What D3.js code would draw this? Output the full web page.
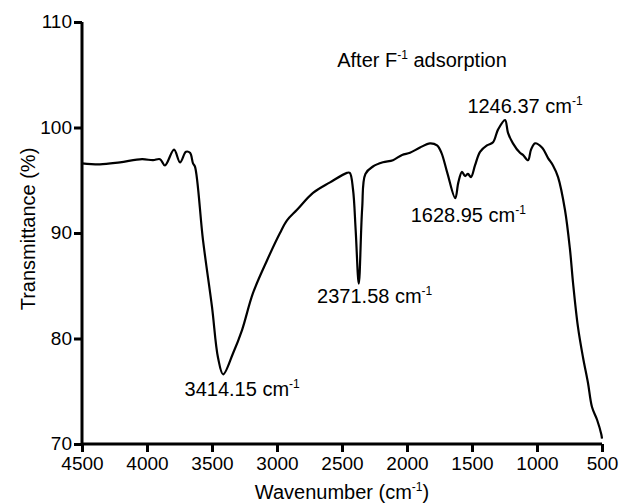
<!DOCTYPE html>
<html>
<head>
<meta charset="utf-8">
<script src="https://cdn.jsdelivr.net/npm/d3@7"></script>
<style>
  body { margin: 0; background: #fff; }
  text { font-family: "Liberation Sans", Arial, sans-serif; fill: #000; }
</style>
</head>
<body>
<div id="chart"></div>
<script>
// FTIR spectrum after F- adsorption
const wavenumber = [4500, 4362, 4208, 4038, 3954, 3900, 3862, 3792, 3746, 3700, 3669, 3646, 3631,
  3569, 3500, 3454, 3414, 3338, 3269, 3185, 3077, 2977, 2923, 2846, 2723, 2592, 2462, 2440,
  2415, 2395, 2371, 2345, 2320, 2262, 2185, 2108, 2038, 1977, 1900, 1823, 1769, 1735, 1690,
  1629, 1605, 1577, 1554, 1531, 1508, 1477, 1438, 1385, 1338, 1300, 1246, 1223, 1185, 1131,
  1108, 1069, 1046, 1015, 962, 915, 877, 838, 785, 746, 723, 685, 646, 608, 577, 538, 505, 500];
const transmittance = [96.6, 96.5, 96.7, 97.0, 96.9, 97.0, 96.4, 97.9, 96.7, 97.7, 97.6, 96.6, 96.3,
  89.3, 83.0, 78.2, 76.6, 78.6, 80.8, 84.3, 87.4, 90.0, 91.2, 92.2, 93.8, 94.8, 95.7, 95.7,
  94.1, 90.3, 85.2, 92.3, 95.6, 96.3, 96.7, 96.9, 97.4, 97.6, 98.1, 98.5, 98.3, 97.6, 95.7,
  93.3, 94.8, 95.8, 95.4, 95.6, 95.3, 96.4, 97.7, 98.3, 98.6, 99.8, 100.7, 99.5, 98.5, 97.6,
  97.4, 96.9, 97.9, 98.5, 98.1, 97.1, 96.4, 95.3, 92.2, 88.4, 85.3, 81.1, 78.2, 75.8, 73.5, 72.3, 70.9, 70.5];

const xTicks = [4500, 4000, 3500, 3000, 2500, 2000, 1500, 1000, 500];
const yTicks = [70, 80, 90, 100, 110];

// labelled peaks
const peakWn = [3414.15, 2371.58, 1628.95, 1246.37];
const peakText = ["3414.15", "2371.58", "1628.95", "1246.37"];

const width = 623, height = 503;
const margin = {top: 22, right: 21, bottom: 59, left: 82};

const svg = d3.select('#chart').append('svg')
    .attr('width', width)
    .attr('height', height);

const x = d3.scaleLinear().domain([4500, 500]).range([margin.left, width - margin.right]);
const y = d3.scaleLinear().domain([70, 110]).range([height - margin.bottom, margin.top]);

// axes
const xAxis = svg.append('g')
    .attr('transform', `translate(0,${height - margin.bottom})`)
    .call(d3.axisBottom(x).tickValues(xTicks).tickSize(8).tickPadding(5).tickFormat(d3.format('d')));
const yAxis = svg.append('g')
    .attr('transform', `translate(${margin.left},0)`)
    .call(d3.axisLeft(y).tickValues(yTicks).tickSize(8).tickPadding(2).tickFormat(d3.format('d')));

[xAxis, yAxis].forEach(g => {
  g.select('.domain').attr('stroke', '#000').attr('stroke-width', 3);
  g.selectAll('.tick line').attr('stroke', '#000').attr('stroke-width', 3);
  g.selectAll('.tick text').style('font-size', '19px').attr('fill', '#000');
});
xAxis.select('.domain').attr('d', `M${margin.left},0H${width - margin.right}`);
yAxis.select('.domain').attr('d', `M0,${margin.top}V${height - margin.bottom}`);
yAxis.selectAll('.tick text').attr('dy', '0.3em');

// spectrum line
const line = d3.line()
    .x((d, i) => x(wavenumber[i]))
    .y(d => y(d))
    .curve(d3.curveCatmullRom.alpha(0.5));

svg.append('path')
    .datum(transmittance)
    .attr('d', line)
    .attr('fill', 'none')
    .attr('stroke', '#000')
    .attr('stroke-width', 2.2)
    .attr('stroke-linejoin', 'round');

// helper for "xxx cm-1" text with superscript
function supText(sel, main, sup, tail) {
  sel.append('tspan').text(main);
  sel.append('tspan').attr('dy', -8).style('font-size', '12px').text(sup);
  if (tail) sel.append('tspan').attr('dy', 8).text(tail);
}

// peak labels (offsets in px from the peak)
const labelDx = [19, 16, 13, 20];
const labelY = [396, 303, 222, 113];
peakWn.forEach((wn, i) => {
  const t = svg.append('text')
      .attr('x', x(wn) + labelDx[i])
      .attr('y', labelY[i])
      .attr('text-anchor', 'middle')
      .style('font-size', '20px');
  supText(t, peakText[i] + ' cm', '-1');
});

// title inside plot
const title = svg.append('text')
    .attr('x', 422)
    .attr('y', 67)
    .attr('text-anchor', 'middle')
    .style('font-size', '20px');
supText(title, 'After F', '-1', ' adsorption');

// axis titles
const xt = svg.append('text')
    .attr('x', (margin.left + width - margin.right) / 2)
    .attr('y', 499)
    .attr('text-anchor', 'middle')
    .style('font-size', '20px');
supText(xt, 'Wavenumber (cm', '-1', ')');

svg.append('text')
    .attr('transform', 'translate(35,229) rotate(-90)')
    .attr('text-anchor', 'middle')
    .style('font-size', '20px')
    .text('Transmittance (%)');
</script>
</body>
</html>
